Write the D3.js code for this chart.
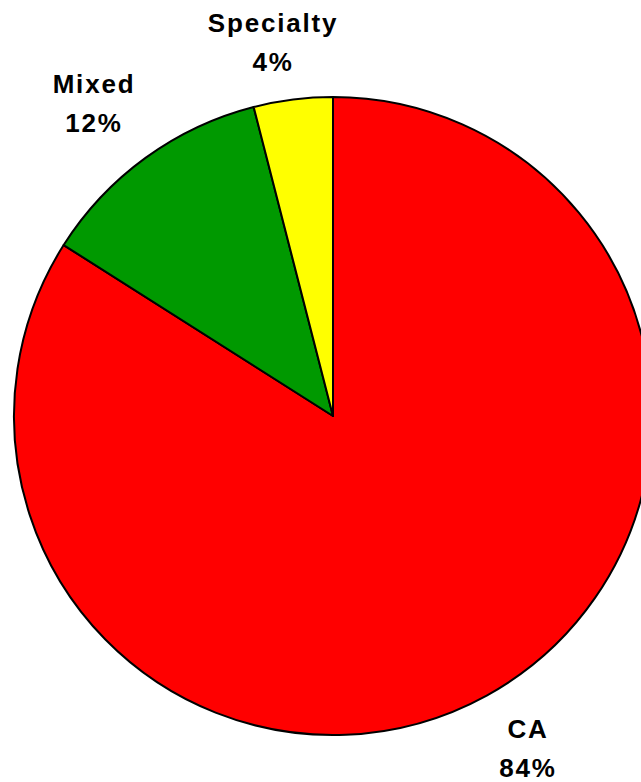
<!DOCTYPE html>
<html>
<head>
<meta charset="utf-8">
<script src="https://cdn.jsdelivr.net/npm/d3@7"></script>
<style>
html,body{margin:0;padding:0;background:#fff;}
svg{display:block;}
</style>
</head>
<body>
<svg id="chart" width="641" height="782"></svg>
<script>
const categories = ["CA", "Mixed", "Specialty"];
const values = [84, 12, 4];
const percentLabels = ["84%", "12%", "4%"];
const colors = ["#FF0000", "#009900", "#FFFF00"];

const svg = d3.select("#chart");
const cx = 333, cy = 416, radius = 319;

const pie = d3.pie().sort(null).value(d => d)(values);
const arc = d3.arc().innerRadius(0).outerRadius(radius);

const g = svg.append("g").attr("transform", `translate(${cx},${cy})`);
g.selectAll("path").data(pie).join("path")
  .attr("d", arc)
  .attr("fill", (d, i) => colors[i])
  .attr("stroke", "#000")
  .attr("stroke-width", 2)
  .attr("stroke-linejoin", "round");

// label anchor positions (relative to page) for each category
const labelPos = [
  {x: 528, y: 738},
  {x: 94, y: 93},
  {x: 273, y: 32}
];

const labels = svg.append("g")
  .attr("font-family", "Arial, 'Liberation Sans', sans-serif")
  .attr("font-weight", "bold")
  .attr("font-size", 26)
  .attr("fill", "#000")
  .attr("text-anchor", "middle");

categories.forEach((c, i) => {
  const t = labels.append("text")
    .attr("x", labelPos[i].x)
    .attr("y", labelPos[i].y)
    .attr("letter-spacing", 1.8);
  t.append("tspan").attr("x", labelPos[i].x).text(c);
  t.append("tspan").attr("x", labelPos[i].x).attr("dy", 39).text(percentLabels[i]);
});
</script>
</body>
</html>
